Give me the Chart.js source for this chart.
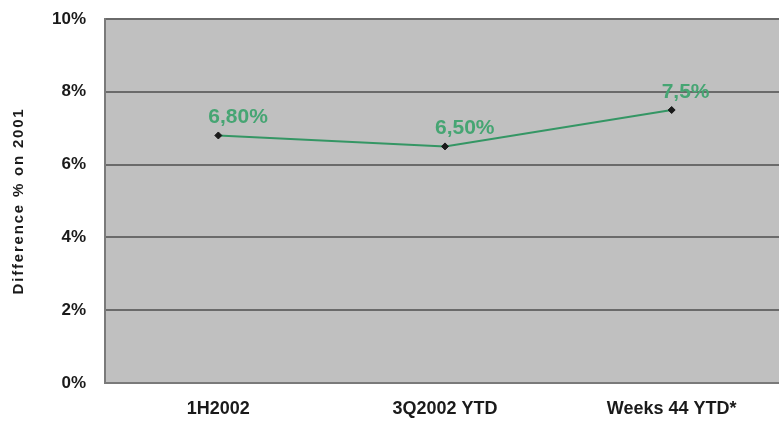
<!DOCTYPE html>
<html>
<head>
<meta charset="utf-8">
<script src="https://cdn.jsdelivr.net/npm/chart.js@4.4.0/dist/chart.umd.min.js"></script>
<style>
    html, body { margin: 0; padding: 0; background: #fff; overflow: hidden; }
    #wrap { width: 790px; height: 433px; }
</style>
</head>
<body>
<div id="wrap"><canvas id="diffChart" width="790" height="433"></canvas></div>
<script>
// Periods and growth vs 2001 (%)
const periods = ['1H2002', '3Q2002 YTD', 'Weeks 44 YTD*'];
const diffValues = [6.8, 6.5, 7.5];
const valueLabels = ['6,80%', '6,50%', '7,5%'];
const yTicks = [0, 2, 4, 6, 8, 10];
const yTitle = 'Difference % on 2001';

const lineGreen = 'rgb(52, 150, 100)';
const labelGreen = 'rgb(70, 165, 115)';
const FONT = '"Liberation Sans", Arial, sans-serif';

// Grey plot background behind the grid
const plotBackground = {
    id: 'plotBackground',
    beforeDraw(chart) {
        const { ctx, chartArea: a } = chart;
        ctx.save();
        ctx.fillStyle = '#c0c0c0';
        ctx.fillRect(a.left, a.top, a.right - a.left, a.bottom - a.top);
        ctx.strokeStyle = '#d8d8d8';
        ctx.lineWidth = 1;
        ctx.beginPath();
        ctx.moveTo(a.left, a.top + 0.5);
        ctx.lineTo(a.right, a.top + 0.5);
        ctx.stroke();
        ctx.restore();
    }
};

// Value labels above each point, plus the spaced-out axis title
const annotations = {
    id: 'annotations',
    afterDatasetsDraw(chart) {
        const { ctx, chartArea: a } = chart;
        const meta = chart.getDatasetMeta(0);
        ctx.save();
        ctx.font = 'bold 21px ' + FONT;
        ctx.fillStyle = labelGreen;
        ctx.textAlign = 'left';
        ctx.textBaseline = 'alphabetic';
        meta.data.forEach((pt, i) => {
            ctx.fillText(valueLabels[i], pt.x - 10, pt.y - 12);
        });
        ctx.restore();

        ctx.save();
        ctx.translate(19, (a.top + a.bottom) / 2);
        ctx.rotate(-Math.PI / 2);
        ctx.font = 'bold 15px ' + FONT;
        ctx.letterSpacing = '1.8px';
        ctx.fillStyle = '#1a1a1a';
        ctx.textAlign = 'center';
        ctx.textBaseline = 'middle';
        ctx.fillText(yTitle, 0, 0);
        ctx.restore();
    }
};

new Chart(document.getElementById('diffChart'), {
    type: 'line',
    data: {
        labels: periods,
        datasets: [{
            data: diffValues,
            borderColor: lineGreen,
            borderWidth: 2,
            tension: 0,
            pointStyle: 'rectRot',
            pointRadius: 3.5,
            pointBackgroundColor: '#1a1a1a',
            pointBorderColor: '#1a1a1a',
            pointBorderWidth: 1
        }]
    },
    options: {
        responsive: false,
        animation: false,
        layout: { padding: { top: 19, left: 0, right: 0, bottom: 0 } },
        plugins: {
            legend: { display: false },
            tooltip: { enabled: false }
        },
        scales: {
            x: {
                offset: true,
                afterFit(scale) { scale.height = 50; },
                grid: { display: false, drawTicks: false },
                border: { display: true, color: '#7a7a7a', width: 2 },
                ticks: {
                    padding: 15,
                    color: '#1a1a1a',
                    font: { family: FONT, size: 18, weight: 'bold' }
                }
            },
            y: {
                min: 0,
                max: 10,
                afterFit(scale) {
                    scale.width = 105;
                    scale.paddingTop = 0;
                    scale.paddingBottom = 0;
                },
                afterBuildTicks(scale) { scale.ticks = yTicks.map(v => ({ value: v })); },
                grid: { color: '#6a6a6a', lineWidth: 2, drawTicks: false },
                border: { display: true, color: '#7a7a7a', width: 2 },
                ticks: {
                    padding: 19,
                    color: '#1a1a1a',
                    font: { family: FONT, size: 17, weight: 'bold' },
                    callback: v => v + '%'
                }
            }
        }
    },
    plugins: [plotBackground, annotations]
});
</script>
</body>
</html>
